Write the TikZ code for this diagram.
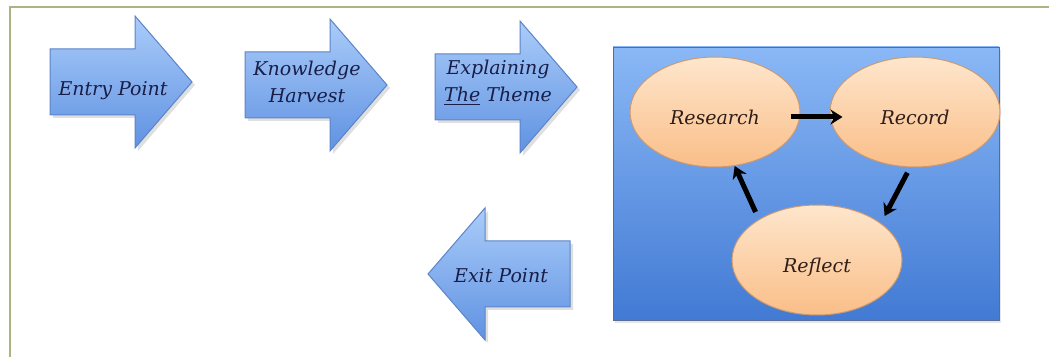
\documentclass[tikz,border=0pt]{standalone}
\usepackage{fontspec}
\setmainfont{DejaVu Serif}
\usetikzlibrary{arrows.meta,shadows,shapes.geometric}

\definecolor{arrow top}{RGB}{170,204,249}
\definecolor{arrow bottom}{RGB}{96,146,226}
\definecolor{arrow edge}{RGB}{92,132,200}
\definecolor{panel top}{RGB}{138,184,246}
\definecolor{panel bottom}{RGB}{66,122,212}
\definecolor{panel edge}{RGB}{88,108,150}
\definecolor{stage top}{RGB}{254,230,204}
\definecolor{stage bottom}{RGB}{250,190,136}
\definecolor{stage edge}{RGB}{204,154,112}
\definecolor{block ink}{RGB}{24,30,72}
\definecolor{stage ink}{RGB}{46,30,24}
\definecolor{frame line}{RGB}{172,180,132}

\tikzset{
  every block/.style={draw=arrow edge, line width=0.5pt, top color=arrow top,
    bottom color=arrow bottom,
    drop shadow={opacity=0.25, shadow xshift=1.5pt, shadow yshift=-1.5pt}},
  block text/.style={align=center, text=block ink,
    font=\fontsize{9.5}{13.5}\selectfont\itshape},
  panel/.style={draw=panel edge, line width=0.4pt, top color=panel top,
    bottom color=panel bottom,
    drop shadow={opacity=0.2, shadow xshift=1pt, shadow yshift=-1.5pt}},
  every stage/.style={ellipse, minimum width=85pt, minimum height=55pt,
    draw=stage edge, line width=0.5pt, top color=stage top,
    bottom color=stage bottom, text=stage ink, text height=13pt, text depth=0pt,
    font=\fontsize{9.5}{11}\selectfont\itshape},
  flow/.style={->, line width=2.5pt, black},
  frame/.style={draw=frame line, line width=1pt}
}

\begin{document}
\begin{tikzpicture}[x=0.5pt, y=-0.5pt, >={Stealth[length=6pt, width=7.5pt]}]

  \useasboundingbox (0,0) rectangle (1049,357);
  \draw [frame] (10,357) -- (10,7) -- (1049,7);

  % arrows
  \foreach \n/\x/\y/\d in {entry/50/82/1, harvest/245/85/1, theme/435/87/1, exit/570/274/-1}
  \path [every block] (\x,\y-33) -- ++(\d*85,0) -- ++(0,-33) -- (\x+\d*142,\y)
    -- (\x+\d*85,\y+66) -- ++(0,-33) -- (\x,\y+33) -- cycle;

  %   label
  \foreach \n/\x/\y/\l in {entry/113/91/{Entry Point}, harvest/307/82/{Knowledge\\Harvest},
    theme/498/83/{Explaining\\\underline{The} Theme}, exit/501/276/{Exit Point}}
  \node [block text] (\n-text) at (\x,\y) {\l};

  % cycle
  \path [panel] (613,47) rectangle (999,320);

  \foreach \n/\x/\y in {Research/715/112, Record/915/112, Reflect/817/260}
  \node [every stage] (\n) at (\x,\y) {\n};

  \draw [flow, shorten <=-5pt, shorten >=-6.5pt] ([yshift=-2.5pt]Research.east) -- ([yshift=-2.5pt]Record.west);
  \draw [flow, shorten <=3pt, shorten >=4pt] (Record.-95) -- (Reflect.30);
  \draw [flow, shorten <=4pt] (Reflect.145) -- (Research.-70);
\end{tikzpicture}
\end{document}
